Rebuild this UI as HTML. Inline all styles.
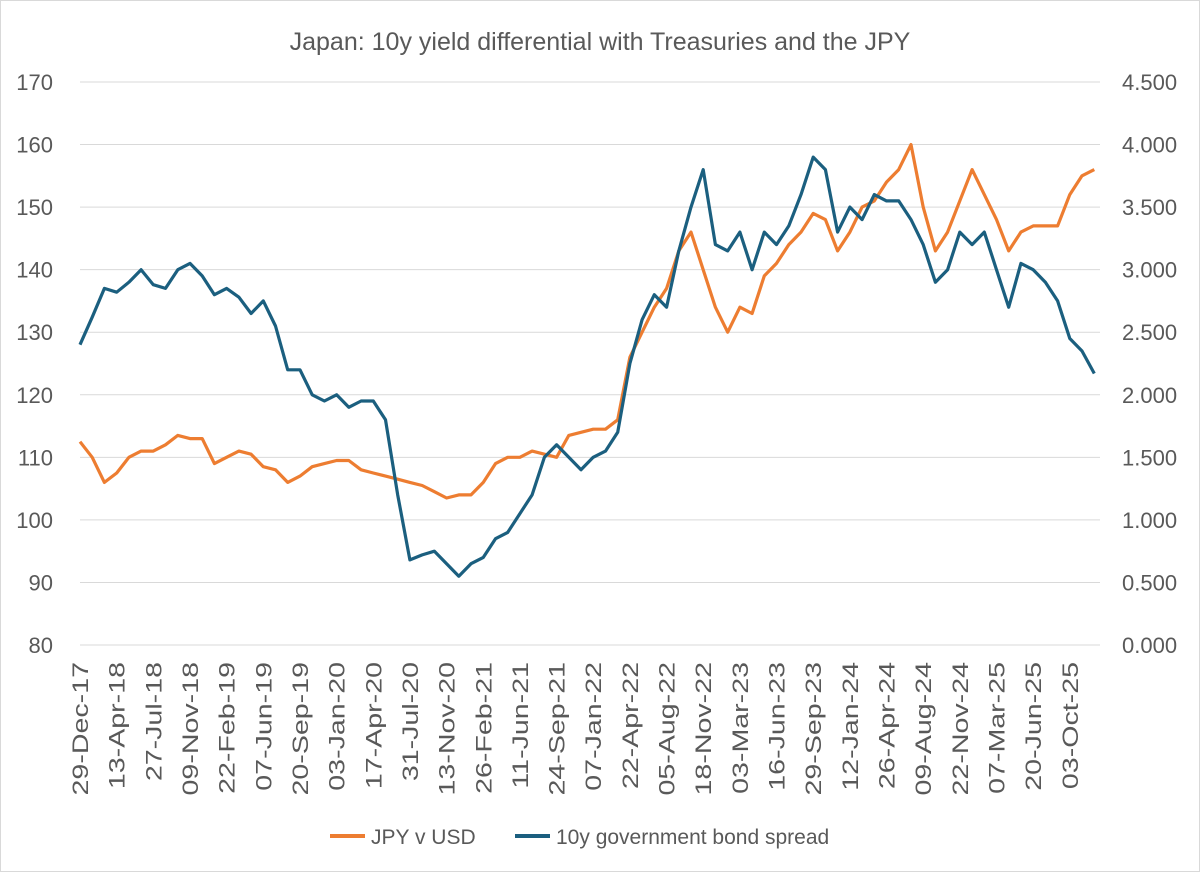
<!DOCTYPE html>
<html><head><meta charset="utf-8"><style>
body{margin:0;background:#fff;width:1200px;height:872px;overflow:hidden;font-family:"Liberation Sans",sans-serif}
</style></head><body>
<svg id="chart" width="1200" height="872" xmlns="http://www.w3.org/2000/svg">
<rect x="0.5" y="0.5" width="1199" height="871" fill="#fff" stroke="#d9d9d9"/>
<text x="600" y="50" text-anchor="middle" font-size="25" fill="#595959">Japan: 10y yield differential with Treasuries and the JPY</text>
<g id="grid"></g><g id="lab"></g><g id="ser"></g>
<g>
<line x1="330" y1="836" x2="365" y2="836" stroke="#ed7d31" stroke-width="4"/>
<text x="371" y="844" font-size="21" fill="#595959">JPY v USD</text>
<line x1="515" y1="836" x2="550" y2="836" stroke="#1b5f7f" stroke-width="4"/>
<text x="556" y="844" font-size="21" fill="#595959">10y government bond spread</text>
</g>
</svg>
<script>
const weeks=[0,5,10,15,20,25,30,35,40,45,50,55,60,65,70,75,80,85,90,95,100,105,110,115,120,125,130,135,140,145,150,155,160,165,170,175,180,185,190,195,200,205,210,215,220,225,230,235,240,245,250,255,260,265,270,275,280,285,290,295,300,305,310,315,320,325,330,335,340,345,350,355,360,365,370,375,380,385,390,395,400,405,410,415];
const jpy=[112.5,110,106,107.5,110,111,111,112,113.5,113,113,109,110,111,110.5,108.5,108,106,107,108.5,109,109.5,109.5,108,107.5,107,106.5,106,105.5,104.5,103.5,104,104,106,109,110,110,111,110.5,110,113.5,114,114.5,114.5,116,126,130,134,137,143,146,140,134,130,134,133,139,141,144,146,149,148,143,146,150,151,154,156,160,150,143,146,151,156,152,148,143,146,147,147,147,152,155,156];
const spread=[2.4,2.62,2.85,2.82,2.9,3.0,2.88,2.85,3.0,3.05,2.95,2.8,2.85,2.78,2.65,2.75,2.55,2.2,2.2,2.0,1.95,2.0,1.9,1.95,1.95,1.8,1.2,0.68,0.72,0.75,0.65,0.55,0.65,0.7,0.85,0.9,1.05,1.2,1.5,1.6,1.5,1.4,1.5,1.55,1.7,2.25,2.6,2.8,2.7,3.15,3.5,3.8,3.2,3.15,3.3,3.0,3.3,3.2,3.35,3.6,3.9,3.8,3.3,3.5,3.4,3.6,3.55,3.55,3.4,3.2,2.9,3.0,3.3,3.2,3.3,3.0,2.7,3.05,3.0,2.9,2.75,2.45,2.35,2.17];
const leftTicks=[80,90,100,110,120,130,140,150,160,170];
const rightTicks=["0.000","0.500","1.000","1.500","2.000","2.500","3.000","3.500","4.000","4.500"];
const dateLabels=["29-Dec-17","13-Apr-18","27-Jul-18","09-Nov-18","22-Feb-19","07-Jun-19","20-Sep-19","03-Jan-20","17-Apr-20","31-Jul-20","13-Nov-20","26-Feb-21","11-Jun-21","24-Sep-21","07-Jan-22","22-Apr-22","05-Aug-22","18-Nov-22","03-Mar-23","16-Jun-23","29-Sep-23","12-Jan-24","26-Apr-24","09-Aug-24","22-Nov-24","07-Mar-25","20-Jun-25","03-Oct-25"];
const NS="http://www.w3.org/2000/svg";
const X=w=>80+w*2.444;
const YL=v=>645-(v-80)*(563/90);
const YR=v=>645-v*(563/4.5);
function mk(t,a,p){const e=document.createElementNS(NS,t);for(const k in a)e.setAttribute(k,a[k]);p.appendChild(e);return e;}
const grid=document.getElementById('grid'),lab=document.getElementById('lab'),ser=document.getElementById('ser');
leftTicks.forEach((v,i)=>{
 const l=mk('line',{x1:80,x2:1100,y1:YL(v),y2:YL(v),stroke:'#d9d9d9','stroke-width':1},grid);
 
 
 const t=mk('text',{x:53,y:YL(v)+8,'text-anchor':'end','font-size':22,fill:'#595959'},lab);t.textContent=v;
 
 
 const r=mk('text',{x:1122,y:YR(+rightTicks[i])+8,'font-size':22,fill:'#595959'},lab);r.textContent=rightTicks[i];
 
 
});
dateLabels.forEach((d,i)=>{
 const x=X(i*15);
 const t=mk('text',{x:0,y:0,'text-anchor':'end','font-size':22,fill:'#595959',transform:`translate(${x+8},662) rotate(-90) scale(1.3,1)`},lab);t.textContent=d;
 
 
});
function path(vals,yf,col,name){
 const d=vals.map((v,i)=>(i?'L':'M')+X(weeks[i]).toFixed(1)+','+yf(v).toFixed(1)).join('');
 const p=mk('path',{d:d,fill:'none',stroke:col,'stroke-width':3.2,'stroke-linejoin':'round'},ser);
 
 
}
path(jpy,YL,'#ed7d31','jpy-line');
path(spread,YR,'#1b5f7f','spread-line');
</script>
</body></html>
